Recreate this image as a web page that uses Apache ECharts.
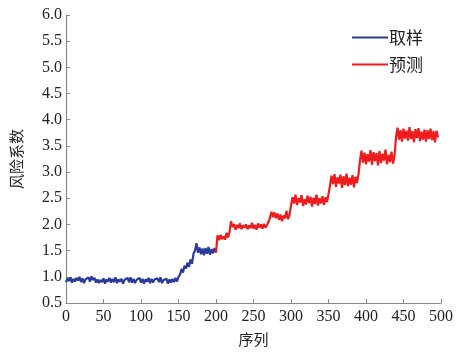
<!DOCTYPE html>
<html>
<head>
<meta charset="utf-8">
<script src="https://cdn.jsdelivr.net/npm/echarts@6/dist/echarts.min.js"></script>
<style>html,body{margin:0;padding:0;background:#fff}#c{width:464px;height:352px}</style>
</head>
<body>
<div id="c"></div>
<script>
// sequence index step
var sampleStart = 0, predictStart = 200, step = 2;
var seriesNames = ['取样', '预测'];
var xTicks = [0, 50, 100, 150, 200, 250, 300, 350, 400, 450, 500];
var yTicks = [0.5, 1.0, 1.5, 2.0, 2.5, 3.0, 3.5, 4.0, 4.5, 5.0, 5.5, 6.0];

var sampleValues = [
  0.90, 0.97, 0.92, 0.99, 0.89, 0.96, 0.91, 0.98, 0.93, 1.00,
  0.90, 0.97, 0.88, 0.95, 0.92, 0.99, 0.91, 1.01, 0.94, 0.98,
  0.89, 0.95, 0.88, 0.94, 0.90, 0.97, 0.87, 0.95, 0.91, 0.98,
  0.89, 0.96, 0.90, 0.99, 0.88, 0.95, 0.91, 0.96, 0.87, 0.94,
  0.92, 0.98, 0.90, 0.99, 0.89, 0.96, 0.88, 0.94, 0.91, 0.98,
  0.89, 0.96, 0.87, 0.95, 0.91, 0.98, 0.88, 0.96, 0.89, 0.95,
  0.92, 0.97, 0.90, 0.99, 0.88, 0.94, 0.91, 0.96, 0.87, 0.95,
  0.89, 0.96, 0.90, 0.98, 0.91, 1.00, 1.04, 1.15, 1.08, 1.21,
  1.16, 1.27, 1.19, 1.33, 1.25, 1.44, 1.50, 1.64, 1.46, 1.56,
  1.43, 1.54, 1.41, 1.55, 1.44, 1.57, 1.42, 1.53, 1.45, 1.55,
  1.46
];
var predictValues = [
  1.46, 1.79, 1.70, 1.80, 1.72, 1.77, 1.71, 1.84, 1.75, 1.85,
  2.06, 1.95, 2.01, 1.90, 1.99, 1.93, 2.02, 1.91, 1.98, 1.94,
  2.00, 1.91, 1.98, 1.93, 2.03, 1.92, 1.99, 1.90, 2.02, 1.94,
  2.00, 1.92, 2.01, 1.94, 1.99, 2.05, 2.13, 2.24, 2.14, 2.23,
  2.12, 2.21, 2.09, 2.19, 2.06, 2.17, 2.12, 2.26, 2.10, 2.18,
  2.36, 2.52, 2.40, 2.57, 2.37, 2.50, 2.42, 2.56, 2.35, 2.48,
  2.38, 2.55, 2.41, 2.53, 2.34, 2.51, 2.39, 2.57, 2.36, 2.50,
  2.40, 2.54, 2.37, 2.52, 2.43, 2.58, 2.74, 2.93, 2.77, 2.96,
  2.72, 2.90, 2.78, 2.95, 2.70, 2.92, 2.75, 2.97, 2.73, 2.89,
  2.76, 2.94, 2.71, 2.91, 2.79, 2.96, 3.22, 3.41, 3.18, 3.37,
  3.15, 3.34, 3.20, 3.42, 3.14, 3.38, 3.21, 3.36, 3.13, 3.40,
  3.17, 3.35, 3.22, 3.43, 3.15, 3.33, 3.19, 3.39, 3.16, 3.31,
  3.66, 3.85, 3.62, 3.80, 3.58, 3.83, 3.64, 3.79, 3.60, 3.86,
  3.63, 3.78, 3.57, 3.82, 3.65, 3.84, 3.59, 3.77, 3.62, 3.81,
  3.58, 3.80, 3.63, 3.83, 3.61, 3.78, 3.57, 3.79, 3.66
];

function pairs(start, vals) {
  return vals.map(function (v, i) { return [start + i * step, v]; });
}

var serif = 'Liberation Serif';
var cjk = 'Noto Sans CJK SC';
var axisCol = '#8a8a8a';

var chart = echarts.init(document.getElementById('c'), null, {renderer: 'canvas'});
chart.setOption({
  animation: false,
  backgroundColor: '#ffffff',
  grid: {left: 66, right: 23, top: 15, bottom: 48, containLabel: false},
  legend: {
    orient: 'vertical',
    left: 347, top: 24,
    itemWidth: 36, itemHeight: 2, itemGap: 10,
    icon: 'rect',
    textStyle: {fontFamily: cjk, fontSize: 17, color: '#222', padding: [0, 0, 0, -4]},
    data: seriesNames
  },
  xAxis: {
    type: 'value', min: 0, max: 500, interval: 50,
    name: '序列', nameLocation: 'middle', nameGap: 29,
    nameTextStyle: {fontFamily: cjk, fontSize: 15, color: '#222'},
    axisLine: {show: true, lineStyle: {color: axisCol, width: 1.2}},
    axisTick: {show: true, inside: true, length: 4, lineStyle: {color: axisCol}},
    axisLabel: {fontFamily: serif, fontSize: 16, color: '#222', margin: 6},
    splitLine: {show: false}
  },
  yAxis: {
    type: 'value', min: 0.5, max: 6.0, interval: 0.5,
    name: '风险系数', nameLocation: 'middle', nameGap: 42,
    nameTextStyle: {fontFamily: cjk, fontSize: 15, color: '#222'},
    axisLine: {show: true, lineStyle: {color: axisCol, width: 1.2}},
    axisTick: {show: true, inside: true, length: 4, lineStyle: {color: axisCol}},
    axisLabel: {fontFamily: serif, fontSize: 16, color: '#222', margin: 4,
      formatter: function (v) { return v.toFixed(1); }},
    splitLine: {show: false}
  },
  series: [
    {
      name: seriesNames[0], type: 'line', showSymbol: false, symbol: 'none',
      data: pairs(sampleStart, sampleValues),
      lineStyle: {color: '#2b3a9c', width: 2.2},
      itemStyle: {color: '#2b3a9c'}
    },
    {
      name: seriesNames[1], type: 'line', showSymbol: false, symbol: 'none',
      data: pairs(predictStart, predictValues),
      lineStyle: {color: '#ee1c1c', width: 2.2},
      itemStyle: {color: '#ee1c1c'}
    }
  ]
});
</script>
</body>
</html>
